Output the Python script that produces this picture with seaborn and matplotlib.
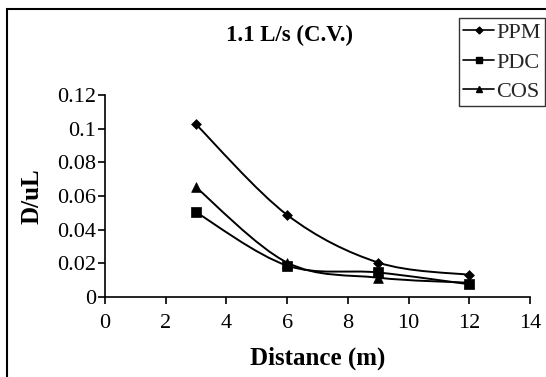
import numpy as np
import pandas as pd
import matplotlib
matplotlib.use("Agg")
import matplotlib.pyplot as plt
import seaborn as sns
from matplotlib.path import Path
from matplotlib.patches import PathPatch, Rectangle
from matplotlib.lines import Line2D

# ---- data ----
distance = [3, 6, 9, 12]
ppm = [0.1026, 0.0488, 0.0205, 0.0132]
pdc = [0.0504, 0.0187, 0.0146, 0.0076]
cos = [0.0652, 0.0205, 0.0115, 0.0085]
series_names = ["PPM", "PDC", "COS"]
x_ticks = [0, 2, 4, 6, 8, 10, 12, 14]
y_ticks = [0, 0.02, 0.04, 0.06, 0.08, 0.1, 0.12]
y_tick_labels = ["0", "0.02", "0.04", "0.06", "0.08", "0.1", "0.12"]
title = "1.1 L/s (C.V.)"
x_label = "Distance (m)"
y_label = "D/uL"

df = pd.DataFrame({
    "Distance": distance * 3,
    "value": ppm + pdc + cos,
    "series": [s for s in series_names for _ in distance],
})

sns.set_theme(style="white")
plt.rcParams["font.family"] = ["Liberation Serif", "DejaVu Serif"]

fig = plt.figure(figsize=(5.46, 3.77), dpi=100)
ax = fig.add_axes([0.192, 0.212, 0.779, 0.536])

markers = {"PPM": "D", "PDC": "s", "COS": "^"}
msizes = {"PPM": 5, "PDC": 6.5, "COS": 7}


def smooth_path(xs, ys):
    pts = np.column_stack([xs, ys]).astype(float)
    n = len(pts)
    verts = [pts[0]]
    codes = [Path.MOVETO]
    for i in range(n - 1):
        p0 = pts[i - 1] if i > 0 else pts[i]
        p1 = pts[i]
        p2 = pts[i + 1]
        p3 = pts[i + 2] if i + 2 < n else pts[i + 1]
        c1 = p1 + (p2 - p0) / 6.0
        c2 = p2 - (p3 - p1) / 6.0
        verts += [c1, c2, p2]
        codes += [Path.CURVE4] * 3
    return Path(verts, codes)


for name in series_names:
    sub = df[df["series"] == name]
    patch = PathPatch(smooth_path(sub["Distance"].values, sub["value"].values),
                      facecolor="none", edgecolor="black", lw=1.4)
    ax.add_patch(patch)

for name in series_names:
    sub = df[df["series"] == name]
    sns.scatterplot(data=sub, x="Distance", y="value", marker=markers[name],
                    s=msizes[name] ** 2, color="black", edgecolor="black",
                    linewidth=0.5, ax=ax, legend=False, zorder=3)

ax.set_xlim(0, 14)
ax.set_ylim(0, 0.12)
ax.set_xticks(x_ticks)
ax.set_yticks(y_ticks)
ax.set_yticklabels(y_tick_labels)
ax.tick_params(axis="both", labelsize=16, direction="out", length=5, width=1.2,
               color="black", labelcolor="black", bottom=True, left=True)
ax.tick_params(axis="x", pad=7)
ax.tick_params(axis="y", pad=1)
for side in ["top", "right"]:
    ax.spines[side].set_visible(False)
for side in ["left", "bottom"]:
    ax.spines[side].set_color("black")
    ax.spines[side].set_linewidth(1.2)

ax.set_xlabel(x_label, fontsize=18, fontweight="bold", color="black", labelpad=10)
ax.set_ylabel(y_label, fontsize=18, fontweight="bold", color="black", labelpad=10)
fig.text(0.53, 0.905, title, fontsize=16.5, fontweight="bold", ha="center",
         va="center", color="black")

handles = [Line2D([0], [0], color="black", lw=1.2, marker=markers[n],
                  markersize=msizes[n] * 0.7, markerfacecolor="black")
           for n in series_names]
leg = fig.legend(handles, series_names, loc="upper right",
                 bbox_to_anchor=(0.999, 0.952), bbox_transform=fig.transFigure,
                 fontsize=16, frameon=True, fancybox=False, edgecolor="black",
                 handlelength=1.4, handletextpad=0.1, borderpad=0.2,
                 labelspacing=0.4, borderaxespad=0)
leg.get_frame().set_linewidth(1.0)

fig.patches.append(Rectangle((7 / 546, -0.2), 1.5, 1.2 - 9 / 377 + 0.0,
                             transform=fig.transFigure, fill=False,
                             edgecolor="black", lw=1.5, figure=fig))

fig.savefig("out.png", dpi=100)
